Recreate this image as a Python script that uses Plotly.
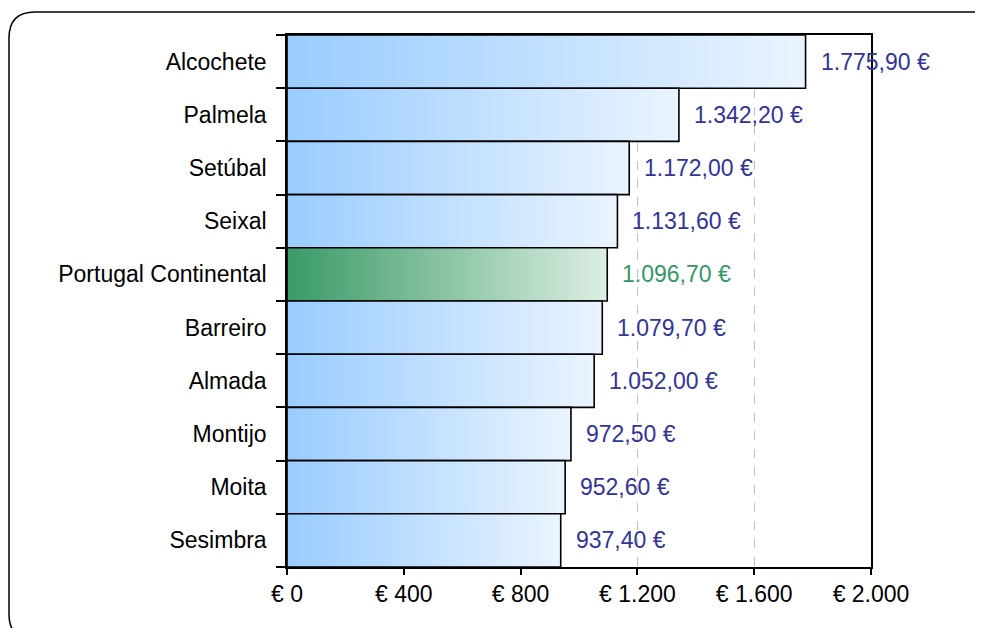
import plotly.graph_objects as go

categories = ["Alcochete", "Palmela", "Setúbal", "Seixal", "Portugal Continental",
              "Barreiro", "Almada", "Montijo", "Moita", "Sesimbra"]
values = [1775.90, 1342.20, 1172.00, 1131.60, 1096.70, 1079.70, 1052.00, 972.50, 952.60, 937.40]
highlight = "Portugal Continental"
x_tickvals = [0, 400, 800, 1200, 1600, 2000]
x_ticktext = ["€ 0", "€ 400", "€ 800", "€ 1.200", "€ 1.600", "€ 2.000"]

# page body has an 8px margin, so figure coordinates are screen - 8
W, H = 975, 620
ML, MR, MT, MB = 279, 112, 27, 61
FONT = "Liberation Sans, Arial, sans-serif"
FS = 23

def fmt(v):
    s = f"{v:,.2f}"
    s = s.replace(",", "X").replace(".", ",").replace("X", ".")
    return s + " €"

n = len(categories)
ypos = [n - 1 - i for i in range(n)]

fig = go.Figure()
annotations = []
for cat, v, y in zip(categories, values, ypos):
    if cat == highlight:
        cs = [[0, "#3a9a66"], [1, "#dcefe3"]]
        tc = "#339966"
    else:
        cs = [[0, "#99ccff"], [1, "#eaf4ff"]]
        tc = "#333399"
    fig.add_trace(go.Scatter(
        x=[0, v, v, 0, 0],
        y=[y - 0.5, y - 0.5, y + 0.5, y + 0.5, y - 0.5],
        mode="lines", fill="toself",
        fillgradient=dict(type="horizontal", colorscale=cs, start=0, stop=v),
        line=dict(color="black", width=1.6),
        showlegend=False, hoverinfo="skip", name=cat,
    ))
    annotations.append(dict(
        x=v, y=y, xref="x", yref="y", text=fmt(v), showarrow=False,
        xanchor="left", yanchor="middle", xshift=13,
        font=dict(family=FONT, size=FS, color=tc),
    ))

def px(x):
    return (x - ML) / (W - ML - MR)
def py(y):
    return (H - MB - y) / (H - MT - MB)

L, T, R, B, r = 1, 4, 998, 632, 26
path = (f"M {px(L)},{py(T + r)} Q {px(L)},{py(T)} {px(L + r)},{py(T)} "
        f"L {px(R - r)},{py(T)} Q {px(R)},{py(T)} {px(R)},{py(T + r)} "
        f"L {px(R)},{py(B - r)} Q {px(R)},{py(B)} {px(R - r)},{py(B)} "
        f"L {px(L + r)},{py(B)} Q {px(L)},{py(B)} {px(L)},{py(B - r)} Z")

fig.update_layout(
    width=W, height=H,
    margin=dict(l=ML, r=MR, t=MT, b=MB),
    paper_bgcolor="white", plot_bgcolor="white",
    showlegend=False,
    annotations=annotations,
    shapes=[dict(type="path", path=path, xref="paper", yref="paper",
                 line=dict(color="black", width=1.5), layer="above")],
    xaxis=dict(
        range=[0, 2000], tickvals=x_tickvals, ticktext=x_ticktext,
        showgrid=True, gridcolor="#c0c0c0", griddash="dash", gridwidth=1,
        ticks="outside", ticklen=6, tickcolor="black", tickwidth=1.5,
        showline=True, linecolor="black", linewidth=1.5, mirror=True,
        zeroline=False, tickfont=dict(family=FONT, size=FS, color="black"),
        fixedrange=True,
    ),
    yaxis=dict(
        range=[-0.5, n - 0.5], tickvals=ypos, ticktext=categories,
        ticks="", showgrid=False, zeroline=False,
        showline=True, linecolor="black", linewidth=1.5, mirror=True,
        tickfont=dict(family=FONT, size=FS, color="black"),
        ticklabelstandoff=14,
        minor=dict(tickvals=[y - 0.5 for y in range(n + 1)], ticks="outside",
                   ticklen=9, tickcolor="black", tickwidth=1.5, showgrid=False),
        fixedrange=True,
    ),
)

fig.write_html("out.html")
